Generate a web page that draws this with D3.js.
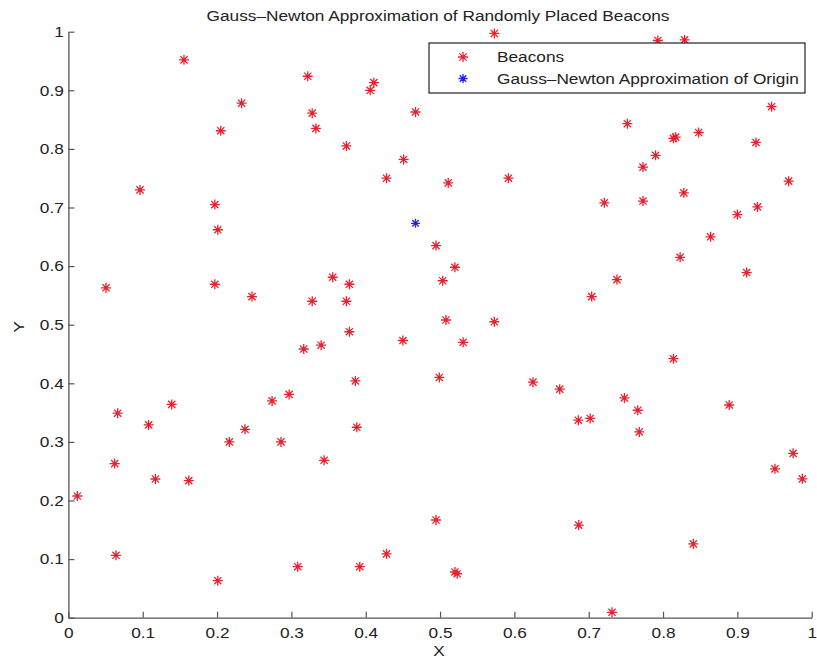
<!DOCTYPE html>
<html>
<head>
<meta charset="utf-8">
<script src="https://cdn.jsdelivr.net/npm/d3@7"></script>
<style>
  body { margin: 0; background: #fff; }
  svg text { font-family: Helvetica, Arial, "Liberation Sans", sans-serif; fill: #222; }
</style>
</head>
<body>
<svg id="chart" width="817" height="659"></svg>
<script>
// beacon positions
let beaconX = [0.1555, 0.322, 0.406, 0.411, 0.233, 0.328, 0.333, 0.205, 0.374, 0.451,
  0.428, 0.0963, 0.197, 0.467, 0.573, 0.793, 0.829, 0.738, 0.946, 0.752,
  0.848, 0.814, 0.817, 0.925, 0.790, 0.773, 0.511, 0.592, 0.969, 0.828,
  0.721, 0.773, 0.927, 0.900, 0.4946, 0.520, 0.5036, 0.508, 0.573, 0.450,
  0.531, 0.499, 0.625, 0.661, 0.748, 0.766, 0.686, 0.702, 0.768, 0.889,
  0.814, 0.9125, 0.823, 0.864, 0.738, 0.704, 0.201, 0.0506, 0.197, 0.247,
  0.3556, 0.378, 0.328, 0.374, 0.378, 0.3166, 0.340, 0.386, 0.297, 0.274,
  0.139, 0.0663, 0.108, 0.2376, 0.388, 0.2165, 0.286, 0.0623, 0.344, 0.117,
  0.162, 0.012, 0.064, 0.201, 0.3085, 0.392, 0.428, 0.975, 0.9506, 0.9874,
  0.4946, 0.6866, 0.8407, 0.520, 0.523, 0.7313];
let beaconY = [0.952, 0.924, 0.900, 0.913, 0.878, 0.861, 0.835, 0.831, 0.805, 0.782,
  0.750, 0.730, 0.705, 0.863, 0.997, 0.985, 0.986, 0.972, 0.872, 0.843,
  0.828, 0.818, 0.820, 0.811, 0.789, 0.769, 0.742, 0.750, 0.745, 0.725,
  0.708, 0.711, 0.701, 0.688, 0.635, 0.598, 0.575, 0.508, 0.505, 0.473,
  0.470, 0.410, 0.402, 0.390, 0.375, 0.354, 0.337, 0.340, 0.317, 0.363,
  0.442, 0.589, 0.615, 0.650, 0.577, 0.548, 0.662, 0.563, 0.569, 0.548,
  0.581, 0.569, 0.540, 0.540, 0.488, 0.4585, 0.465, 0.404, 0.381, 0.370,
  0.364, 0.349, 0.329, 0.3215, 0.325, 0.300, 0.300, 0.263, 0.2686, 0.2367,
  0.234, 0.2077, 0.1065, 0.0631, 0.087, 0.087, 0.109, 0.2805, 0.254, 0.237,
  0.1667, 0.158, 0.126, 0.078, 0.075, 0.0092];

// Gauss-Newton estimate
let originX = [0.467];
let originY = [0.673];

let tickVals = [0, 0.1, 0.2, 0.3, 0.4, 0.5, 0.6, 0.7, 0.8, 0.9, 1];
let seriesNames = ["Beacons", "Gauss\u2013Newton Approximation of Origin"];
let seriesColors = ["#e8202e", "#2020ff"];
let titleText = "Gauss\u2013Newton Approximation of Randomly Placed Beacons";

let svg = d3.select("#chart");
let stretch = "scale(1.15,1)"; // the original's lettering is a bit wide

let xScale = d3.scaleLinear().domain([0, 1]).range([68.4, 811.7]);
let yScale = d3.scaleLinear().domain([0, 1]).range([617.7, 31.7]);

// MATLAB style '*' marker
let star = (r) => {
  let d = r * 0.72;
  return "M" + (-r) + ",0H" + r + "M0," + (-r) + "V" + r +
    "M" + (-d) + "," + (-d) + "L" + d + "," + d +
    "M" + (-d) + "," + d + "L" + d + "," + (-d);
};

let fmt = d3.format("~g");

let xAxis = d3.axisBottom(xScale).tickValues(tickVals).tickFormat(fmt)
  .tickSizeInner(-6).tickSizeOuter(0).tickPadding(10);
let yAxis = d3.axisLeft(yScale).tickValues(tickVals).tickFormat(fmt)
  .tickSizeInner(-6).tickSizeOuter(0).tickPadding(4);

let gx = svg.append("g").attr("transform", "translate(0,617.7)").call(xAxis);
let gy = svg.append("g").attr("transform", "translate(68.4,0)").call(yAxis);

[gx, gy].forEach(g => {
  g.select(".domain").attr("stroke", "#555").attr("stroke-width", 1.3);
  g.selectAll(".tick line").attr("stroke", "#555").attr("stroke-width", 1.2);
  g.selectAll(".tick text").attr("font-size", 15).attr("fill", "#222")
    .attr("font-family", "Helvetica, Arial, 'Liberation Sans', sans-serif")
    .attr("transform", stretch);
});

// points
let beacons = beaconX.map((x, i) => [x, beaconY[i]]);
svg.append("g").selectAll("path")
  .data(beacons)
  .enter()
  .append("path")
  .attr("d", star(5))
  .attr("transform", d => "translate(" + xScale(d[0]) + "," + yScale(d[1]) + ")")
  .attr("stroke", seriesColors[0])
  .attr("stroke-width", 1.3)
  .attr("fill", "none");

let origin = originX.map((x, i) => [x, originY[i]]);
svg.append("g").selectAll("path")
  .data(origin)
  .enter()
  .append("path")
  .attr("d", star(4.5))
  .attr("transform", d => "translate(" + xScale(d[0]) + "," + yScale(d[1]) + ")")
  .attr("stroke", seriesColors[1])
  .attr("stroke-width", 1.3)
  .attr("fill", "none");

// title and axis labels
svg.append("text")
  .attr("transform", "translate(438,21) " + stretch)
  .attr("text-anchor", "middle")
  .attr("font-size", 15)
  .text(titleText);

svg.append("text")
  .attr("transform", "translate(439,656) " + stretch)
  .attr("text-anchor", "middle")
  .attr("font-size", 15)
  .text("X");

svg.append("text")
  .attr("transform", "translate(24,327) rotate(-90) " + stretch)
  .attr("text-anchor", "middle")
  .attr("font-size", 15)
  .text("Y");

// legend
let legend = svg.append("g");
legend.append("rect")
  .attr("x", 429).attr("y", 43)
  .attr("width", 376).attr("height", 50)
  .attr("fill", "#fff")
  .attr("stroke", "#222")
  .attr("stroke-width", 1.2);

legend.selectAll("path")
  .data(seriesNames)
  .enter()
  .append("path")
  .attr("d", (d, i) => star(i === 0 ? 5 : 4.5))
  .attr("transform", (d, i) => "translate(463," + (57 + i * 21.5) + ")")
  .attr("stroke", (d, i) => seriesColors[i])
  .attr("stroke-width", 1.3)
  .attr("fill", "none");

legend.selectAll("text")
  .data(seriesNames)
  .enter()
  .append("text")
  .attr("transform", (d, i) => "translate(497," + (62 + i * 21.5) + ") " + stretch)
  .attr("font-size", 15)
  .text(d => d);
</script>
</body>
</html>
